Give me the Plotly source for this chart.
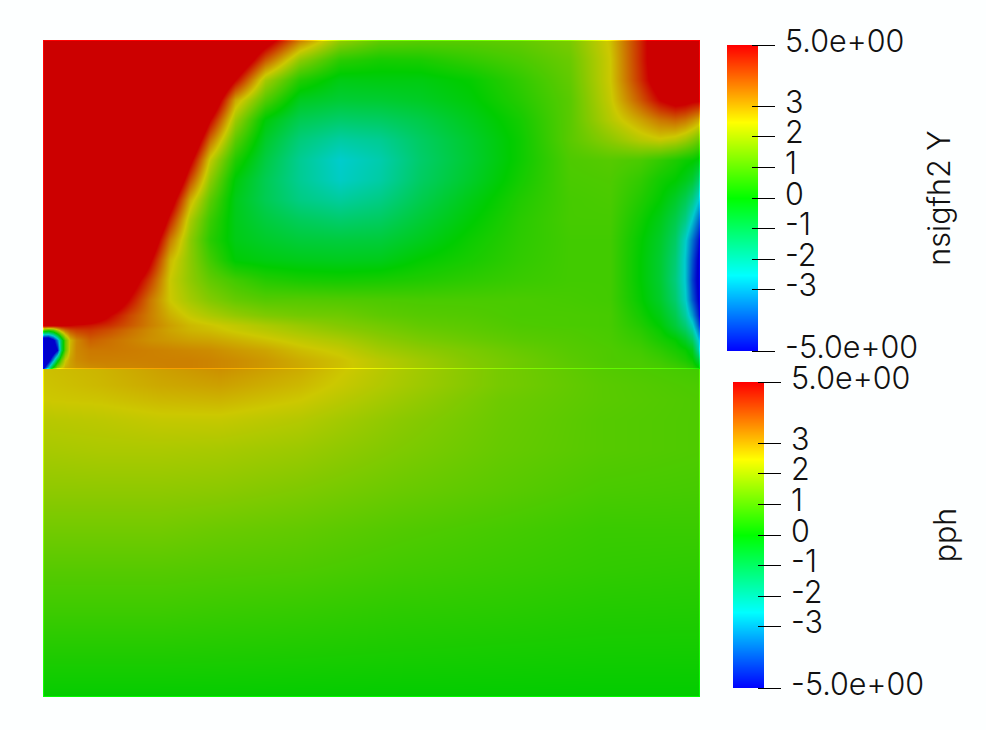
import plotly.graph_objects as go

W, H = 986, 730

# mesh coordinates of the sampled field (top half)
upper_x = [43,48,53,57,61,65,70,76,90,110,130,150,170,190,210,235,265,300,340,380,420,470,520,570,610,640,660,675,685,692,700]
upper_y = [40,60,80,100,120,140,160,180,200,220,240,260,280,300,315,325,330,340,350,360,369]
nsigfh2_y = [
 [9,9,9,9,9,9,9,9,9,9,9,9,9, 9,9,7.6,5.7,3.4,1.8,1.2,1.1,1.1,1.2,1.5, 2.6,4.5,6,7,7.5,8,8],
 [9,9,9,9,9,9,9,9,9,9,9,9,9, 9,9,6.7,3.9,1.7,.5,.25,.3,.6,.9,1.3, 2.5,4.5,6,7,7.5,8,8],
 [9,9,9,9,9,9,9,9,9,9,9,9,9, 9,8,5,2,.4,-.25,-.2,-.2,.05,.6,1.2, 2.5,4.4,5.8,6.5,6.8,7,7],
 [9,9,9,9,9,9,9,9,9,9,9,9,9, 9,6.6,2.9,1,-.4,-.65,-.6,-.45,-.1,.45,1.1, 2.4,3.9,5,5.5,5.4,5.2,5.1],
 [9,9,9,9,9,9,9,9,9,9,9,9,9, 8.1,5,1.9,-.1,-1,-1.3,-1.2,-.9,-.35,.25,1.1, 2.2,2.95,3.5,3.7,3.5,3.2,2.8],
 [9,9,9,9,9,9,9,9,9,9,9,9,9, 6.7,3.6,1.1,-.5,-1.5,-2,-1.8,-1.2,-.55,.15,1.1, 1.7,2.2,2.4,2.2,1.9,1.6,1.2],
 [9,9,9,9,9,9,9,9,9,9,9,9,8.4, 5.3,2.35,.4,-.8,-1.8,-2.5,-2.1,-1.3,-.6,.15,.95, 1.05,.9,.6,.35,.15,.05,-.2],
 [9,9,9,9,9,9,9,9,9,9,9,9,7.2, 4.05,1.7,-.1,-1,-1.8,-2.4,-2,-1.2,-.5,.25,.9, .95,.6,.2,0,-.3,-.6,-1.5],
 [9,9,9,9,9,9,9,9,9,9,9,8.7,5.75, 2.8,1.1,-.3,-1,-1.6,-1.9,-1.6,-.95,-.25,.4,.85, .9,.4,0,-.5,-1,-1.6,-2.8],
 [9,9,9,9,9,9,9,9,9,9,9,7.5,4.55, 2.05,.7,-.3,-.75,-1.1,-1.3,-1.15,-.65,-.05,.5,.85, .85,.2,-.3,-.9,-1.6,-2.6,-4],
 [9,9,9,9,9,9,9,9,9,9,9,6.25,3.45, 1.7,.5,-.25,-.5,-.7,-.75,-.7,-.35,.15,.55,.8, .8,.05,-.5,-1.2,-2.4,-3.6,-5],
 [9,9,9,9,9,9,9,9,9,9,7.5,5.15,2.7, 1.7,.8,-.05,-.2,-.3,-.35,-.3,.03,.3,.6,.8, .8,0,-.6,-1.4,-2.6,-4,-5.5],
 [9,9,9,9,9,9,9,9,9,7.5,5.8,4.2,2.45, 1.75,1.2,.8,.45,.3,.25,.3,.4,.55,.7,.8, .8,0,-.6,-1.5,-2.6,-4.2,-5.6],
 [9,9,9,9,9,9,9,9,8,6.3,4.85,3.5,2.5, 2,1.6,1.25,1.05,1.05,1,.95,.9,.9,.9,.85, .8,.08,-.5,-1.3,-2.4,-3.9,-5.4],
 [8,8,8,8,8,8,7.6,7.1,6.1,5,4.1,3.4,2.8, 2.4,2.1,1.8,1.55,1.4,1.35,1.15,1.05,1,.9,.9, .85,.25,-.25,-.95,-1.9,-3.1,-5],
 [5.5,5.5,5.4,5.3,5.2,5.1,5,4.9,4.75,4.4,3.9,3.4,3, 2.7,2.55,2.35,2.1,1.85,1.6,1.4,1.2,1.1,.95,.9, .85,.4,-.05,-.7,-1.4,-2.3,-4.4],
 [1,.5,1,2,3,3.6,4,4.2,4.3,4,3.6,3.25,2.95, 2.75,2.65,2.45,2.25,2,1.75,1.5,1.3,1.15,1,.95, .87,.5,.1,-.5,-1.1,-1.9,-3.9],
 [-7,-7,-5.4,-3.5,-1,1.2,2.7,3.3,3.8,3.6,3.4,3.2,3.1, 3,2.95,2.8,2.6,2.35,2.1,1.75,1.5,1.3,1.1,1, .9,.65,.3,.05,-.45,-1.1,-3],
 [-8,-8,-6.5,-5,-1,1.2,2.8,3.3,3.5,3.5,3.45,3.4,3.35, 3.3,3.25,3.1,2.95,2.65,2.4,2,1.75,1.5,1.25,1.05, .95,.8,.55,.3,.1,-.3,-2.4],
 [-8,-5.8,-3,-.5,1.2,2.5,3,3.25,3.4,3.4,3.4,3.4,3.4, 3.4,3.35,3.25,3.1,2.85,2.6,2.25,1.95,1.6,1.35,1.1, .95,.9,.75,.55,.35,.1,-.9],
 [-5,-2,1,2.3,2.7,2.9,3,3.1,3.2,3.3,3.3,3.35,3.4, 3.4,3.35,3.25,3.1,2.9,2.6,2.3,2,1.65,1.35,1.15, 1,.95,.9,.8,.7,.55,.1],
]

# bottom half
lower_x = [43,100,160,220,300,400,500,600,700]
lower_y = [369,385,400,420,450,490,530,570,610,650,697]
pph = [
 [2.6,2.75,3,3.2,2.85,2.1,1.45,1.05,.8],
 [2.55,2.7,2.9,3,2.7,2.05,1.45,1.1,.9],
 [2.5,2.55,2.7,2.75,2.5,1.9,1.35,1.1,.95],
 [2.25,2.3,2.4,2.4,2.2,1.7,1.3,1.05,.95],
 [2.05,2.1,2.1,2.05,1.9,1.55,1.25,1.05,.95],
 [1.75,1.75,1.75,1.7,1.55,1.3,1.1,.9,.85],
 [1.4,1.4,1.4,1.3,1.2,1,.85,.7,.7],
 [1.05,1.05,1.05,1,.95,.8,.7,.6,.55],
 [.75,.75,.75,.7,.65,.55,.5,.42,.4],
 [.42,.42,.42,.4,.37,.32,.28,.25,.24],
 [.05,.05,.05,.05,.04,.03,.03,.02,.02],
]

bar_levels = [-5, -2.5, 0, 2.5, 5]
tick_vals = [-5, -3, -2, -1, 0, 1, 2, 3, 5]
tick_text = ["-5.0e+00", "-3", "-2", "-1", "0", "1", "2", "3", "5.0e+00"]

BG = "#fdffff"
SHADED = [[0, "#0000cc"], [.25, "#00cccc"], [.5, "#00cc00"], [.75, "#ccc800"], [1, "#cc0000"]]
BRIGHT = [[0, "#0000ff"], [.25, "#00ffff"], [.5, "#00ff00"], [.75, "#ffff00"], [1, "#ff0000"]]
FONT = "Inter"

fig = go.Figure()
common = dict(zmin=-5, zmax=5, showscale=False, zsmooth="best", hoverinfo="skip")

def hm(x, y, z, xa, ya, cs):
    fig.add_trace(go.Heatmap(x=x, y=y, z=z, xaxis=xa, yaxis=ya, colorscale=cs, **common))

hm(upper_x, upper_y, nsigfh2_y, "x", "y", SHADED)
hm(lower_x, lower_y, pph, "x2", "y2", SHADED)

# thin brightly lit edges of the two blocks
hm(upper_x, [40, 40.6], [nsigfh2_y[0], nsigfh2_y[0]], "x", "y", BRIGHT)
hm(upper_x, [368.4, 369], [nsigfh2_y[-1], nsigfh2_y[-1]], "x", "y", BRIGHT)
hm([43, 43.6], upper_y, [[r[0], r[0]] for r in nsigfh2_y], "x", "y", BRIGHT)
hm([699.4, 700], upper_y, [[r[-1], r[-1]] for r in nsigfh2_y], "x", "y", BRIGHT)
hm([43, 43.6], lower_y, [[r[0], r[0]] for r in pph], "x2", "y2", BRIGHT)
hm([699.4, 700], lower_y, [[r[-1], r[-1]] for r in pph], "x2", "y2", BRIGHT)
hm(lower_x, [696.4, 697], [pph[-1], pph[-1]], "x2", "y2", BRIGHT)

# scalar bars
hm([0, 1], bar_levels, [[v, v] for v in bar_levels], "x3", "y3", BRIGHT)
hm([0, 1], bar_levels, [[v, v] for v in bar_levels], "x4", "y4", BRIGHT)

def fx(a, b): return [a / W, b / W]
def fy(top, bot): return [1 - bot / H, 1 - top / H]

hidden = dict(visible=False, fixedrange=True)
def bar_axis(top, bot, xpos, title, standoff):
    return dict(domain=fy(top, bot), range=[-5, 5], anchor="free", position=xpos / W, side="right",
                tickmode="array", tickvals=tick_vals, ticktext=tick_text, ticks="outside", ticklen=23,
                tickwidth=1, tickcolor="black", showgrid=False, zeroline=False, showline=False,
                layer="above traces", ticklabelstandoff=4, ticklabelshift=-4, automargin=False, fixedrange=True,
                tickfont=dict(family=FONT, size=30.5, weight=300, color="#111"),
                title=dict(text=title, standoff=standoff, font=dict(family=FONT, size=30.5, weight=300, color="#111")))

fig.update_layout(
    width=W, height=H, margin=dict(l=0, r=0, t=0, b=0), paper_bgcolor=BG, plot_bgcolor=BG,
    showlegend=False,
    xaxis=dict(domain=fx(43, 700), range=[43, 700], anchor="y", **hidden),
    yaxis=dict(domain=fy(40, 369), range=[369, 40], anchor="x", **hidden),
    xaxis2=dict(domain=fx(43, 700), range=[43, 700], anchor="y2", **hidden),
    yaxis2=dict(domain=fy(369, 697), range=[697, 369], anchor="x2", **hidden),
    xaxis3=dict(domain=fx(727, 758), range=[0, 1], anchor="y3", **hidden),
    yaxis3=bar_axis(45, 351, 751, "nsigfh2 Y", 11),
    xaxis4=dict(domain=fx(733, 764), range=[0, 1], anchor="y4", **hidden),
    yaxis4=bar_axis(382, 688, 757, "pph", 11),
)
fig.write_html("out.html", config={"displayModeBar": False},
               post_script="document.body.style.margin='0';")
